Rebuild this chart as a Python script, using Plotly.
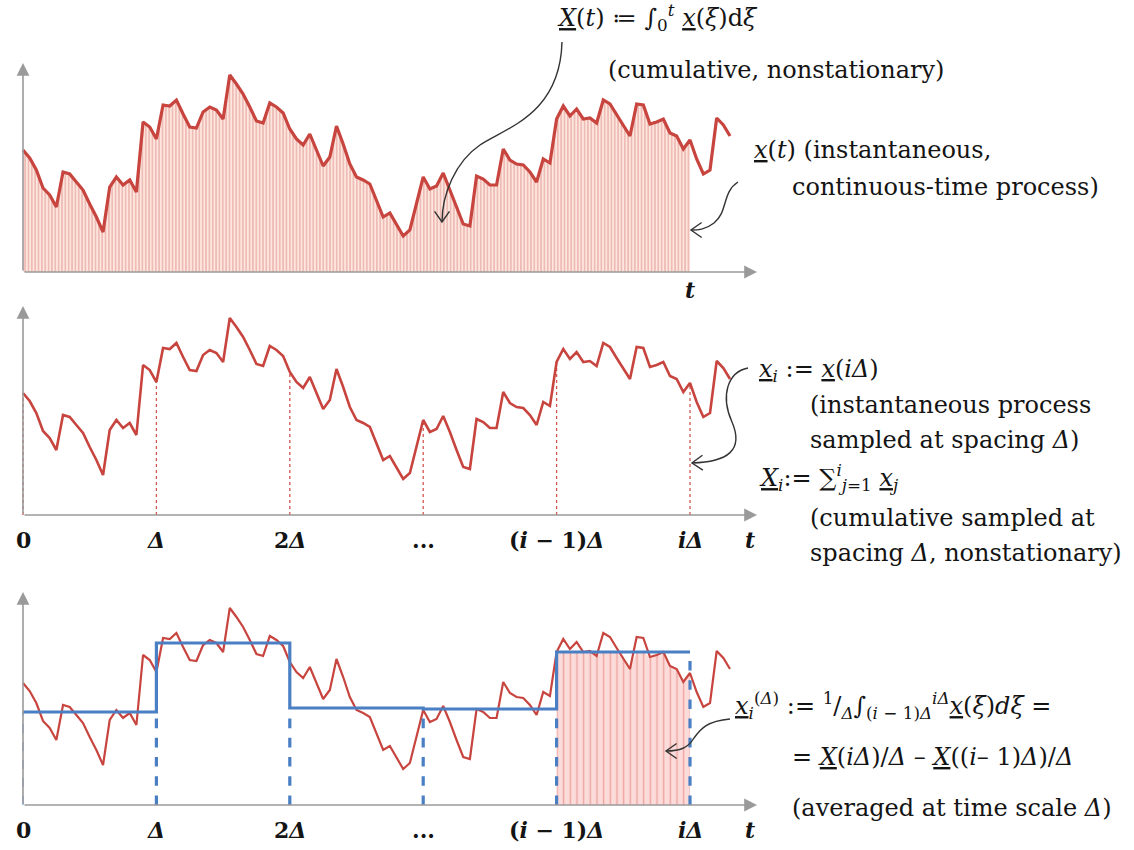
import math
import numpy as np
import plotly.graph_objects as go

# ---------------- data ----------------
# x(t): height of the instantaneous process, sampled every Δ/20 from t=0
x_vals = [12.2, 11.4, 10.2, 8.4, 7.7, 6.5, 10.0, 9.8, 9.0, 8.2,
          6.8, 5.5, 4.0, 8.5, 9.5, 8.7, 9.2, 8.0, 15.0, 14.5,
          13.3, 16.7, 16.6, 17.2, 15.8, 14.5, 14.4, 16.0, 16.5, 16.2,
          15.3, 19.7, 18.8, 17.8, 16.5, 15.1, 14.9, 16.9, 16.5, 15.9,
          14.3, 13.3, 12.7, 13.8, 12.2, 10.6, 11.5, 14.6, 12.8, 10.8,
          9.5, 9.2, 8.8, 7.1, 5.5, 5.9, 4.7, 3.6, 4.2, 6.8,
          9.5, 8.3, 8.6, 9.9, 8.3, 6.5, 4.8, 4.6, 9.6, 9.3,
          8.7, 8.7, 12.3, 11.2, 10.8, 10.7, 10.0, 9.0, 11.3, 10.9,
          15.3, 16.6, 15.6, 16.3, 15.3, 15.4, 14.9, 17.2, 16.8, 15.7,
          14.6, 13.6, 16.8, 16.7, 14.8, 15.0, 15.3, 13.9, 13.6, 12.3,
          13.2, 11.3, 9.8, 10.2, 15.4, 14.7, 13.6]
samples_per_delta = 20
# block averages x_i^(Δ) for the blocks [0,Δ], [Δ,2Δ], ..., [(i-1)Δ, iΔ]
step_levels = [9.3, 16.2, 9.7, 9.6, 15.3]
block_edges = [0, 1, 2, 3, 4, 5]
tick_labels = ["0", "<i>Δ</i>", "2<i>Δ</i>", "...", "(<i>i</i> − 1)<i>Δ</i>", "<i>iΔ</i>"]

# ---------------- styling ----------------
W, H = 1134, 850
RED = "#c8443e"
BLUE = "#4a7fc4"
GREY = "#9a9a9a"
INK = "#141414"
SERIF = "DejaVu Serif"

t = np.arange(len(x_vals)) / samples_per_delta
xv = np.array(x_vals)
n_end = block_edges[-1] * samples_per_delta  # index of iΔ

fig = go.Figure()

# ---------- panel 1 : continuous process and its cumulative area ----------
fig.add_trace(go.Scatter(
    x=t[:n_end + 1], y=xv[:n_end + 1], mode="lines", line=dict(width=0),
    fill="tozeroy", fillcolor="#fde3dc",
    fillpattern=dict(shape="|", size=3.35, solidity=0.4,
                     fgcolor="#d67c74", bgcolor="#fde6df"),
    xaxis="x", yaxis="y", hoverinfo="skip"))
fig.add_trace(go.Scatter(x=t, y=xv, mode="lines",
                         line=dict(color=RED, width=3.2),
                         xaxis="x", yaxis="y"))

# ---------- panel 2 : sampled process ----------
sx, sy = [], []
for e in block_edges:
    k = e * samples_per_delta
    sx += [t[k], t[k], None]
    sy += [0, xv[k], None]
fig.add_trace(go.Scatter(x=sx, y=sy, mode="lines",
                         line=dict(color="#d4564f", width=1.3, dash="dot"),
                         xaxis="x2", yaxis="y2"))
fig.add_trace(go.Scatter(x=t, y=xv, mode="lines",
                         line=dict(color=RED, width=2.6),
                         xaxis="x2", yaxis="y2"))

# ---------- panel 3 : averaged process ----------
k0 = (block_edges[-1] - 1) * samples_per_delta
fill_y = np.minimum(xv[k0:n_end + 1], step_levels[-1])
fig.add_trace(go.Scatter(
    x=t[k0:n_end + 1], y=fill_y, mode="lines", line=dict(width=0),
    fill="tozeroy", fillcolor="#fbd6d4",
    fillpattern=dict(shape="|", size=6.67, solidity=0.22,
                     fgcolor="#de6b66", bgcolor="#fcdcda"),
    xaxis="x3", yaxis="y3", hoverinfo="skip"))
fig.add_trace(go.Scatter(x=t, y=xv, mode="lines",
                         line=dict(color=RED, width=2.2),
                         xaxis="x3", yaxis="y3"))
# dashed drops at block edges
for j, e in enumerate(block_edges):
    left = step_levels[j - 1] if j > 0 else None
    right = step_levels[j] if j < len(step_levels) else None
    top = min(v for v in (left, right) if v is not None)
    fig.add_trace(go.Scatter(
        x=[e, e], y=[0, top], mode="lines",
        line=dict(color="#8fb0dc" if j == 0 else BLUE,
                  width=1.6 if j == 0 else 3.2, dash="dash"),
        xaxis="x3", yaxis="y3"))
# step function
fig.add_trace(go.Scatter(
    x=block_edges, y=step_levels + [step_levels[-1]], mode="lines",
    line=dict(color=BLUE, width=3.2, shape="hv"),
    xaxis="x3", yaxis="y3"))

# ---------------- axes ----------------
px_per_delta = 133.4
x0_px = 23
xrange_ = [-x0_px / px_per_delta, (W - x0_px) / px_per_delta]
panels = [  # (baseline px, top px, bottom px)
    (272, 40, 300),
    (515, 300, 540),
    (805, 580, 830),
]
layout_axes = {}
for i, (base, top, bot) in enumerate(panels, start=1):
    sfx = "" if i == 1 else str(i)
    layout_axes["xaxis" + sfx] = dict(domain=[0, 1], range=xrange_, visible=False,
                                      fixedrange=True,
                                      anchor="y" + sfx)
    layout_axes["yaxis" + sfx] = dict(domain=[1 - bot / H, 1 - top / H],
                                      range=[(base - bot) / 10, (base - top) / 10],
                                      visible=False, fixedrange=True,
                                      anchor="x" + sfx)

annotations = []
axis_tops = [20.9, 20.9, 21.3]
x_tip = (757 - x0_px) / px_per_delta
for i, ytop in enumerate(axis_tops, start=1):
    sfx = "" if i == 1 else str(i)
    for (xx, yy) in [(0, ytop), (x_tip, 0)]:
        annotations.append(dict(
            x=xx, y=yy, ax=0, ay=0, xref="x" + sfx, yref="y" + sfx,
            axref="x" + sfx, ayref="y" + sfx, text="", showarrow=True,
            arrowhead=2, arrowsize=1.6, arrowwidth=1.6, arrowcolor=GREY))

TF = dict(family=SERIF, size=24, color=INK)
TK = dict(family=SERIF, size=22, color=INK)
# tick labels
annotations.append(dict(x=5, y=-1.8, xref="x", yref="y", text="<b><i>t</i></b>",
                        showarrow=False, font=TK))
for i, ylab in [(2, -2.5), (3, -2.5)]:
    sfx = str(i)
    for pos, lab in zip(block_edges, tick_labels):
        annotations.append(dict(x=pos, y=ylab, xref="x" + sfx, yref="y" + sfx,
                                text="<b>" + lab + "</b>", showarrow=False, font=TK))
    annotations.append(dict(x=5.45, y=ylab, xref="x" + sfx, yref="y" + sfx,
                            text="<b><i>t</i></b>", showarrow=False, font=TK))


def U(s):
    return '<span style="text-decoration:underline">' + s + "</span>"


texts = [
    (555, 18, U("<i>X</i>") + "(<i>t</i>) ≔ ∫<sub>0</sub><sup><i>t</i></sup> "
     + U("<i>x</i>") + "(<i>ξ</i>)d<i>ξ</i>"),
    (606, 70, "(cumulative, nonstationary)"),
    (752, 150, U("<i>x</i>") + "(<i>t</i>) (instantaneous,"),
    (790, 187, "continuous-time process)"),
    (757, 370, U("<i>x</i>") + "<sub><i>i</i></sub> := " + U("<i>x</i>") + "(<i>iΔ</i>)"),
    (808, 405, "(instantaneous process"),
    (808, 440, "sampled at spacing <i>Δ</i>)"),
    (757, 477, U("<i>X</i>") + "<sub><i>i</i></sub>:= ∑<sup><i>i</i></sup><sub><i>j</i>=1</sub> "
     + U("<i>x</i>") + "<sub><i>j</i></sub>"),
    (808, 518, "(cumulative sampled at"),
    (808, 553, "spacing <i>Δ</i>, nonstationary)"),
    (733, 705, U("<i>x</i>") + "<sub><i>i</i></sub><sup>(<i>Δ</i>)</sup> := "
     + "<sup>1</sup>/<sub><i>Δ</i></sub>∫<sub>(<i>i</i> − 1)<i>Δ</i></sub><sup><i>iΔ</i></sup>"
     + U("<i>x</i>") + "(<i>ξ</i>)<i>dξ</i> ="),
    (790, 757, "= " + U("<i>X</i>") + "(<i>iΔ</i>)/<i>Δ</i> – " + U("<i>X</i>")
     + "((<i>i</i>– 1)<i>Δ</i>)/<i>Δ</i>"),
    (790, 808, "(averaged at time scale <i>Δ</i>)"),
]
for (px, py, s) in texts:
    annotations.append(dict(x=px / W, y=1 - py / H, xref="paper", yref="paper",
                            xanchor="left", yanchor="middle", text=s,
                            showarrow=False, font=TF))

# ---------------- curly pointer arrows ----------------
def P(x, y):
    return f"{x / W:.5f},{1 - y / H:.5f}"


curves = [
    [(562, 42), (560, 115), (505, 128), (480, 145), (455, 162), (442, 195), (442, 222)],
    [(738, 182), (722, 192), (728, 212), (714, 223), (705, 230), (698, 230), (691, 230)],
    [(748, 368), (728, 372), (720, 395), (732, 422), (744, 450), (728, 462), (692, 463)],
    [(730, 719), (706, 721), (700, 730), (694, 738), (688, 748), (680, 751), (666, 751)],
]
shapes = []
for c in curves:
    d = "M " + P(*c[0]) + " C " + " ".join(P(*p) for p in c[1:4]) + " C " + \
        " ".join(P(*p) for p in c[4:7])
    shapes.append(dict(type="path", path=d, xref="paper", yref="paper",
                       line=dict(color="#333333", width=1.4)))
    # open chevron head
    tx, ty = c[-1]
    dx, dy = tx - c[-2][0], ty - c[-2][1]
    L = math.hypot(dx, dy)
    ux, uy = dx / L, dy / L
    wings = []
    for ang in (math.radians(35), -math.radians(35)):
        rx = ux * math.cos(ang) - uy * math.sin(ang)
        ry = ux * math.sin(ang) + uy * math.cos(ang)
        wings.append((tx - 13 * rx, ty - 13 * ry))
    d2 = "M " + P(*wings[0]) + " L " + P(tx, ty) + " L " + P(*wings[1])
    shapes.append(dict(type="path", path=d2, xref="paper", yref="paper",
                       line=dict(color="#333333", width=1.4)))

fig.update_layout(
    width=W, height=H, margin=dict(l=0, r=0, t=0, b=0),
    paper_bgcolor="white", plot_bgcolor="rgba(0,0,0,0)",
    showlegend=False, annotations=annotations, shapes=shapes,
    **layout_axes)

fig.write_html("out.html", config=dict(displayModeBar=False))
